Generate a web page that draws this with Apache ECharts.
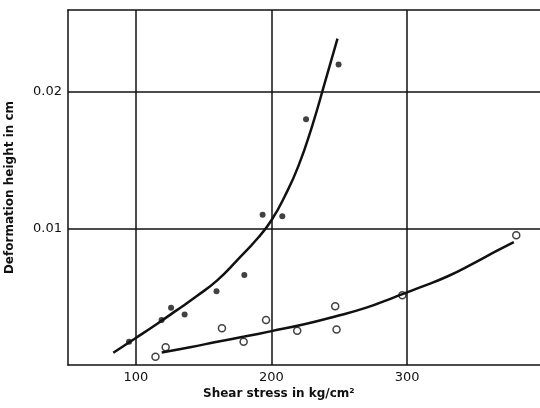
<!DOCTYPE html>
<html>
<head>
<meta charset="utf-8">
<script src="https://cdn.jsdelivr.net/npm/echarts@6/dist/echarts.min.js"></script>
<style>
  html, body { margin: 0; padding: 0; background: #fff; }
  #main { width: 540px; height: 408px; }
</style>
</head>
<body>
<div id="main"></div>
<script>
// filled dots (upper set)
var dotsX = [95, 119, 126, 136, 159.5, 180, 193.5, 208, 225.5, 249.5];
var dotsY = [0.0017, 0.0033, 0.0042, 0.0037, 0.0054, 0.0066, 0.0110, 0.0109, 0.0180, 0.0220];
// fitted curve through filled dots
var curve1X = [83.4, 100, 115, 130, 145, 160, 175, 190, 200, 210, 220, 230, 240, 248.7];
var curve1Y = [0.0009, 0.00198, 0.00297, 0.004, 0.00505, 0.0062, 0.0077, 0.0093, 0.0106, 0.0124, 0.0146, 0.0175, 0.0209, 0.0239];
// open circles (lower set)
var ringsX = [114.5, 122, 163.5, 179.5, 196, 219, 247, 248, 296.5, 380.5];
var ringsY = [0.0006, 0.0013, 0.0027, 0.0017, 0.0033, 0.0025, 0.0043, 0.0026, 0.0051, 0.0095];
// fitted curve through open circles
var curve2X = [119.1, 140, 160, 180, 200, 225, 245, 270, 290, 310, 330, 350, 365, 378.7];
var curve2Y = [0.00092, 0.0013, 0.0017, 0.00208, 0.00248, 0.003, 0.0035, 0.0042, 0.00494, 0.0057, 0.0065, 0.0075, 0.0083, 0.009];

var xTicks = [100, 200, 300];
var yTicks = [0.01, 0.02];

function pairs(xs, ys) {
  return xs.map(function (x, i) { return [x, ys[i]]; });
}

var font = "DejaVu Sans";
var ink = "#111";
var chart = echarts.init(document.getElementById("main"));
chart.setOption({
  animation: false,
  backgroundColor: "#fff",
  grid: {
    left: 68,
    right: 0,
    top: 10,
    bottom: 43,
    outerBoundsMode: "none",
    containLabel: false
  },
  xAxis: [
    {
      type: "value",
      min: 50,
      max: 398,
      axisLine: { lineStyle: { color: ink, width: 1.5 } },
      axisTick: { show: false, customValues: xTicks },
      axisLabel: {
        customValues: xTicks,
        color: ink,
        fontFamily: font,
        fontSize: 13,
        margin: 6
      },
      splitLine: { show: true, lineStyle: { color: ink, width: 1.5 } }
    },
    {
      // top frame line only
      type: "value",
      position: "top",
      min: 50,
      max: 398,
      axisLine: { show: true, onZero: false, lineStyle: { color: ink, width: 1.5 } },
      axisTick: { show: false },
      axisLabel: { show: false },
      splitLine: { show: false }
    }
  ],
  yAxis: {
    type: "value",
    min: 0,
    max: 0.026,
    name: "Deformation height in cm",
    nameLocation: "middle",
    nameGap: 52,
    nameTextStyle: { color: ink, fontFamily: font, fontSize: 12, fontWeight: "bold" },
    axisLine: { lineStyle: { color: ink, width: 1.5 } },
    axisTick: { show: false, customValues: yTicks },
    axisLabel: {
      customValues: yTicks,
      color: ink,
      fontFamily: font,
      fontSize: 13,
      margin: 6
    },
    splitLine: { show: true, lineStyle: { color: ink, width: 1.5 } }
  },
  graphic: [
    {
      type: "text",
      left: 203,
      top: 388,
      style: {
        text: "Shear stress in kg/cm²",
        fill: ink,
        font: "bold 12px 'DejaVu Sans'"
      }
    }
  ],
  series: [
    {
      type: "line",
      data: pairs(curve1X, curve1Y),
      smooth: 0.5,
      showSymbol: false,
      lineStyle: { color: ink, width: 2.5 }
    },
    {
      type: "line",
      data: pairs(curve2X, curve2Y),
      smooth: 0.5,
      showSymbol: false,
      lineStyle: { color: ink, width: 2.5 }
    },
    {
      type: "scatter",
      data: pairs(dotsX, dotsY),
      symbol: "circle",
      symbolSize: 6,
      itemStyle: { color: ink }
    },
    {
      type: "scatter",
      data: pairs(ringsX, ringsY),
      symbol: "circle",
      symbolSize: 7,
      itemStyle: { color: "#fff", borderColor: ink, borderWidth: 1.5 }
    }
  ]
});
</script>
</body>
</html>
